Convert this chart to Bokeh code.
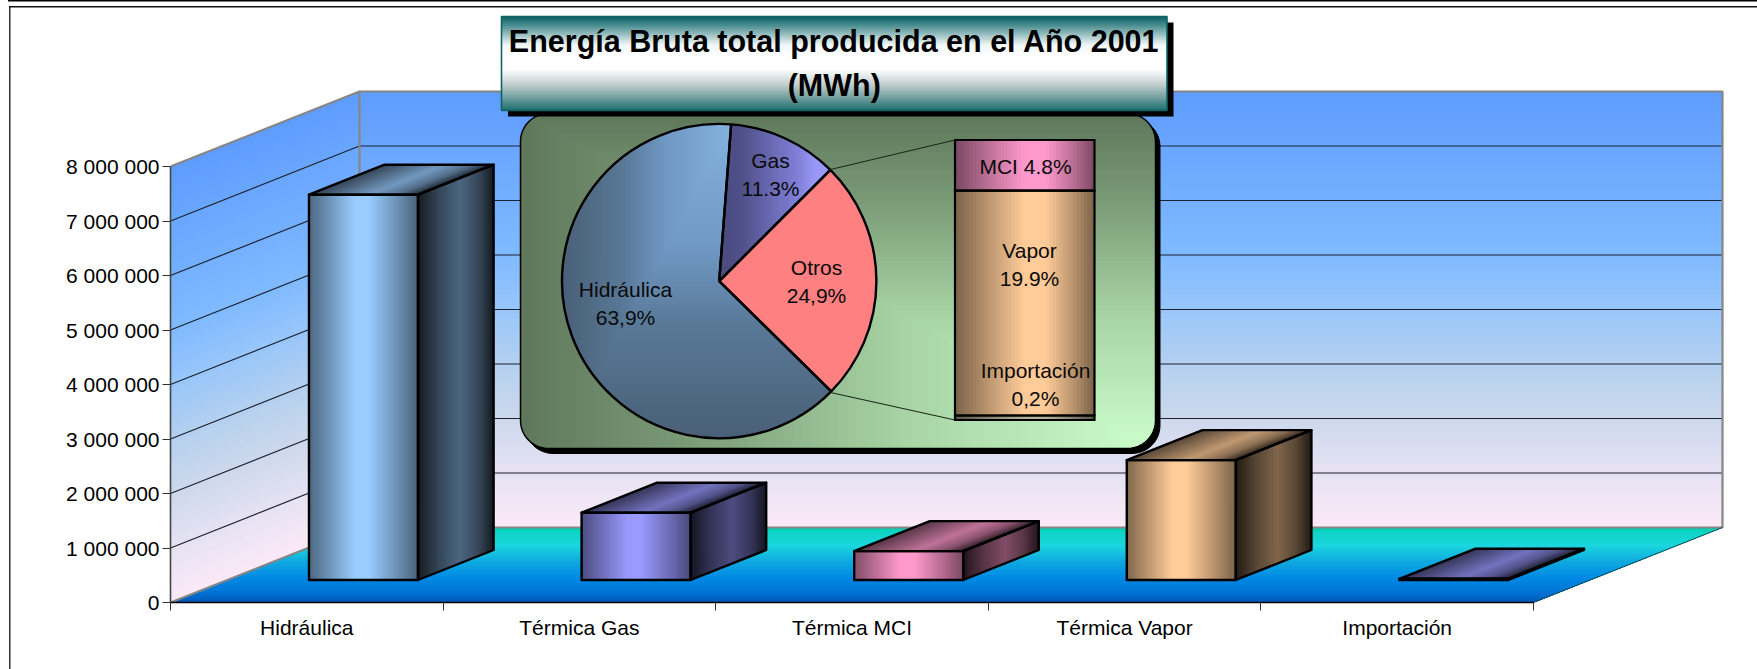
import math
from bokeh.plotting import figure
from bokeh.models import Range1d, FixedTicker
from bokeh.core.properties import value
from bokeh.embed import file_html
from bokeh.resources import INLINE

# ---- data ----
categories = ["Hidráulica", "Térmica Gas", "Térmica MCI", "Térmica Vapor", "Importación"]
energy_mwh = [7070000, 1235000, 530000, 2200000, 22000]
bar_colors = ["#99CCFF", "#9999FF", "#FF99CC", "#FFCC99", "#9999FF"]
y_ticks = [0, 1000000, 2000000, 3000000, 4000000, 5000000, 6000000, 7000000, 8000000]
y_labels = ["0", "1 000 000", "2 000 000", "3 000 000", "4 000 000",
            "5 000 000", "6 000 000", "7 000 000", "8 000 000"]

pie_names = ["Otros", "Hidráulica", "Gas"]
pie_values = [24.9, 63.9, 11.3]
pie_labels = [["Otros", "24,9%"], ["Hidráulica", "63,9%"], ["Gas", "11.3%"]]

stack_names = ["MCI", "Vapor", "Importación"]
stack_values = [4.5, 20.0, 0.4]
stack_labels = [["MCI 4.8%"], ["Vapor", "19.9%"], ["Importación", "0,2%"]]
stack_colors = ["#FF99CC", "#FFCC99", "#B4B49C"]

title_lines = "Energía Bruta total producida en el Año 2001\n(MWh)"

# ---- layout (pixels of the picture) ----
W, H = 1757, 669
AX_L, AX_B = 170, 602
PX_CAT, PX_M = 272.6, 54.5
DEPTH_X = 189 / PX_CAT
DEPTH_Y = 75 / PX_M * 1e6
FONT = value("Liberation Sans")

p = figure(width=W, height=H, output_backend="svg", toolbar_location=None,
           x_range=Range1d(0, (W - AX_L) / PX_CAT),
           y_range=Range1d(0, AX_B / PX_M * 1e6),
           min_border_left=AX_L, min_border_right=0, min_border_top=0,
           min_border_bottom=H - AX_B, x_axis_location="below")
p.outline_line_color = None
p.grid.visible = False
# the thin page frame lies outside the plot frame, so it is painted behind a transparent canvas
p.background_fill_color = None
p.border_fill_color = None
p.styles = {"background":
            "linear-gradient(#000,#000) 8px 0px/100% 1.5px no-repeat,"
            "linear-gradient(#111,#111) 9px 6px/100% 1.5px no-repeat,"
            "linear-gradient(#333,#333) 9px 6px/1.5px 100% no-repeat,"
            "#ffffff"}
p.extra_x_ranges["px"] = Range1d(AX_L, W)
p.extra_y_ranges["px"] = Range1d(AX_B, 0)
PX = dict(x_range_name="px", y_range_name="px")

# ---- helpers ----
def rgb(h):
    h = h.lstrip("#")
    return tuple(int(h[i:i + 2], 16) for i in (0, 2, 4))

def ramp(stops, t):
    t = max(0.0, min(1.0, t))
    for (t0, c0), (t1, c1) in zip(stops, stops[1:]):
        if t <= t1:
            f = 0 if t1 == t0 else (t - t0) / (t1 - t0)
            a, b = rgb(c0), rgb(c1)
            return "#%02x%02x%02x" % tuple(round(a[i] + (b[i] - a[i]) * f) for i in range(3))
    return stops[-1][1]

def shade(base, factors):
    r, g, b = rgb(base)
    return [(t, "#%02x%02x%02x" % (round(r * f), round(g * f), round(b * f))) for t, f in factors]

def lerp(a, b, t):
    return (a[0] + (b[0] - a[0]) * t, a[1] + (b[1] - a[1]) * t)

def grad_quad(A, B, C, D, stops, n=48, **kw):
    """Gradient runs from edge A-D to edge B-C; painted cumulatively so no seams show."""
    xs, ys, cs = [], [], []
    for k in range(n):
        t = k / n
        a, d = lerp(A, B, t), lerp(D, C, t)
        xs.append([a[0], B[0], C[0], d[0]])
        ys.append([a[1], B[1], C[1], d[1]])
        cs.append(ramp(stops, (k + 0.5) / n))
    p.patches(xs, ys, fill_color=cs, line_color=None, **kw)

def clip(poly, fn):
    """Sutherland-Hodgman against one half-plane, fn(pt) >= 0 is inside."""
    out = []
    for i in range(len(poly)):
        a, b = poly[i], poly[(i + 1) % len(poly)]
        fa, fb = fn(a), fn(b)
        if fa >= 0:
            out.append(a)
        if (fa >= 0) != (fb >= 0):
            out.append(lerp(a, b, fa / (fa - fb)))
    return out

def nested(poly, levels):
    xs, ys, cs = [], [], []
    for planes, col in levels:
        q = poly
        for fn in planes:
            if q:
                q = clip(q, fn)
        if len(q) > 2:
            xs.append([c[0] for c in q])
            ys.append([c[1] for c in q])
            cs.append(col)
    p.patches(xs, ys, fill_color=cs, line_color=None, **PX)

def round_rect(l, t, r, b, rad):
    pts = []
    for cx, cy, a0 in [(l + rad, t + rad, 180), (r - rad, t + rad, 270), (r - rad, b - rad, 0), (l + rad, b - rad, 90)]:
        for i in range(13):
            a = math.radians(a0 + 90 * i / 12)
            pts.append((cx + rad * math.cos(a), cy + rad * math.sin(a)))
    return pts

def proj(x, y, d):
    return (x + d * DEPTH_X, y + d * DEPTH_Y)

# ---- walls and floor ----
y_top = y_ticks[-1]
n_cat = len(categories)
wall_stops = [(0, "#5E9CFF"), (.375, "#80BAFF"), (.5, "#98C6FA"), (.625, "#B4D0EF"),
              (.75, "#CCD8EC"), (.875, "#E6E2F3"), (1, "#FBE9F8")]
grad_quad(proj(n_cat, y_top, 1), proj(n_cat, 0, 1), proj(0, 0, 1), proj(0, y_top, 1), wall_stops, n=110)
grad_quad(proj(0, y_top, 1), proj(0, 0, 1), proj(0, 0, 0), proj(0, y_top, 0), wall_stops, n=110)
floor_stops = [(0, "#00D0B0"), (.08, "#10D4C8"), (.24, "#1CD6DE"), (.44, "#10ACE0"),
               (.68, "#0088E4"), (.84, "#0078D8"), (1, "#0058B8")]
grad_quad(proj(n_cat, 0, 1), proj(n_cat, 0, 0), proj(0, 0, 0), proj(0, 0, 1), floor_stops, n=60)

# grid lines
gx, gy = [], []
for v in y_ticks[1:-1]:
    a, b, c = proj(0, v, 0), proj(0, v, 1), proj(n_cat, v, 1)
    gx.append([a[0], b[0], c[0]])
    gy.append([a[1], b[1], c[1]])
p.multi_line(gx, gy, line_color="#1c2230", line_width=1.2)

# wall edges
e = [proj(0, y_top, 0), proj(0, y_top, 1), proj(n_cat, y_top, 1), proj(n_cat, 0, 1), proj(0, 0, 1), proj(0, 0, 0)]
p.line([c[0] for c in e], [c[1] for c in e], line_color="#868686", line_width=2.2)
v0, v1 = proj(0, 0, 1), proj(0, y_top, 1)
p.line([v0[0], v1[0]], [v0[1], v1[1]], line_color="#868686", line_width=2.2)
f0, f1 = proj(n_cat, 0, 0), proj(n_cat, 0, 1)
p.line([f0[0], f1[0]], [f0[1], f1[1]], line_color="#0a4a50", line_width=1)

# ---- 3-D bars ----
front_f = [(0, .5), (.25, .8), (.42, 1), (.55, 1), (.8, .72), (1, .48)]
side_f = [(0, .13), (.25, .33), (.55, .5), (.8, .35), (1, .13)]
top_f = [(0, .35), (.55, .75), (.8, .55), (1, .2)]
D0, D1 = .3, .7
for i, (val, col) in enumerate(zip(energy_mwh, bar_colors)):
    x0, x1 = i + .3, i + .7
    FBL, FBR, FTR, FTL = proj(x0, 0, D0), proj(x1, 0, D0), proj(x1, val, D0), proj(x0, val, D0)
    BBR, BTR, BTL = proj(x1, 0, D1), proj(x1, val, D1), proj(x0, val, D1)
    grad_quad(FTL, FTR, FBR, FBL, shade(col, front_f))
    grad_quad(FTR, BTR, BBR, FBR, shade(col, side_f))
    grad_quad(FTL, FTR, BTR, BTL, shade(col, top_f))
    faces = [[FBL, FBR, FTR, FTL], [FBR, BBR, BTR, FTR], [FTL, FTR, BTR, BTL]]
    p.patches([[c[0] for c in q] for q in faces], [[c[1] for c in q] for q in faces],
              fill_alpha=0, line_color="black", line_width=2.4, line_join="round")

# ---- inset panel ----
PL, PT, PR, PB = 520, 113, 1155, 448
p.patch(*zip(*round_rect(PL + 4.5, PT + 5, PR + 4.5, PB + 5, 28)), fill_color="black", line_color="black", **PX)
panel = round_rect(PL, PT, PR, PB, 28)
panel_stops = [(0, "#5F785C"), (.25, "#7A9A76"), (.6, "#A8D4A5"), (1, "#CCFFCC")]
lv = []
for k in range(70):
    t = k / 70
    ax, ay = PL + t * (PR - PL), PT + t * (PB - PT)
    lv.append(([(lambda c, ax=ax: c[0] - ax), (lambda c, ay=ay: c[1] - ay)], ramp(panel_stops, t)))
nested(panel, lv)
p.line(*zip(*(panel + panel[:1])), line_color="black", line_width=1.5, **PX)

# ---- pie ----
CX, CY, RAD = 718.7, 280.6, 157.2
total = sum(pie_values)
cw = 45.0
spans = []
for v in pie_values:
    spans.append((cw, cw + 360 * v / total))
    cw = spans[-1][1]
starts = [math.radians(90 - s[1]) for s in spans]
ends = [math.radians(90 - s[0]) for s in spans]
wedge_kw = dict(x=[CX] * 3, y=[CY] * 3, radius=RAD, start_angle=starts, end_angle=ends, **PX)
p.wedge(fill_color=["#FF8080", "#7098C4", "#7575C0"], line_color=None, **wedge_kw)

def wedge_poly(s):
    pts = [(CX, CY)]
    n = 200
    for i in range(n + 1):
        a = math.radians(s[0] + (s[1] - s[0]) * i / n)
        pts.append((CX + RAD * math.sin(a), CY - RAD * math.cos(a)))
    return pts

# Hidráulica: L-shaped iso-lines, light at the top right, painted from the dark outside inwards
hyd = [(0, "#85B2E0"), (.4, "#7098C4"), (.65, "#587896"), (1, "#4A6078")]
XR, XL, YT, YB = 732, 561, 124, 438
lv = []
for k in range(70):
    t = 1 - k / 70
    bx, by = XR - t * (XR - XL), YT + t * (YB - YT)
    lv.append(([(lambda c, bx=bx: c[0] - bx), (lambda c, by=by: by - c[1])], ramp(hyd, t)))
nested(wedge_poly(spans[1]), lv)
gas = [(0, "#4B4B7F"), (.2, "#50508A"), (.7, "#8080D8"), (.85, "#9898F8"), (1, "#9999FF")]
lv = []
for k in range(50):
    t = k / 50
    bx = 718 + t * (830 - 718)
    lv.append(([(lambda c, bx=bx: c[0] - bx)], ramp(gas, t)))
nested(wedge_poly(spans[2]), lv)
p.wedge(fill_alpha=0, line_color="black", line_width=2.4, **wedge_kw)

# ---- stacked column of the pie ----
SL, ST, SR, SB = 954.5, 139.5, 1094, 419.5
stack_total = sum(stack_values)
y = ST
seg_f = [(0, .48), (.3, .8), (.5, 1), (.65, 1), (.85, .72), (1, .48)]
edges = []
for sv, col in zip(stack_values, stack_colors):
    y1 = y + (SB - ST) * sv / stack_total
    grad_quad((SL, y), (SR, y), (SR, y1), (SL, y1), shade(col, seg_f), n=40, **PX)
    edges.append((y, y1))
    y = y1
p.quad(left=[SL] * 3, right=[SR] * 3, top=[q[0] for q in edges], bottom=[q[1] for q in edges],
       fill_alpha=0, line_color="black", line_width=2.2, line_join="miter", **PX)
p.multi_line([[830, SL], [830, SL]], [[169, ST], [392, SB]], line_color="#1a2a1a", line_width=1.1, **PX)

# ---- title box ----
TL, TT, TR, TB = 501, 16, 1166.5, 110
p.quad(left=[TL + 6.5], right=[TR + 6.5], top=[TT + 6], bottom=[TB + 6], fill_color="black", line_color=None, **PX)
title_stops = [(0, "#0B5F63"), (.1, "#4F9093"), (.3, "#F0F6F6"), (.42, "#FFFFFF"), (.56, "#FFFFFF"),
               (.72, "#C4D0D0"), (.87, "#6E9C9C"), (1, "#1A6E70")]
grad_quad((TL, TT), (TL, TB), (TR, TB), (TR, TT), title_stops, n=60, **PX)
p.quad(left=[TL], right=[TR], top=[TT], bottom=[TB], fill_alpha=0, line_color="#0E6464", line_width=1.6, **PX)
p.text([(TL + TR) / 2], [62.5], text=[title_lines], text_font=FONT, text_font_size="30.5px",
       text_font_style="bold", text_align="center", text_baseline="middle", text_color="black",
       text_line_height=1.28, **PX)

# ---- labels inside the panel ----
lab_pos = [(816, 281), (625, 303), (770, 174), (1025, 166), (1029, 264), (1035, 384)]
lab_txt = ["\n".join(t) for t in pie_labels + stack_labels]
p.text([c[0] for c in lab_pos], [c[1] for c in lab_pos], text=lab_txt, text_font=FONT, text_font_size="21px",
       text_align="center", text_baseline="middle", text_color="#0a0a0a", text_line_height=1.25, **PX)

# ---- axes ----
ya = p.yaxis[0]
ya.ticker = FixedTicker(ticks=y_ticks)
ya.major_label_overrides = dict(zip(y_ticks, y_labels))
ya.bounds = (0, y_top)
ya.major_tick_in, ya.major_tick_out = 0, 8
ya.minor_tick_line_color = None
ya.major_label_standoff = 3
ya.major_label_text_font = "Liberation Sans"
ya.major_label_text_font_size = "21px"
ya.major_label_text_color = "black"
ya.axis_line_color = "#444444"
ya.axis_line_width = 1.6
ya.major_tick_line_color = "#333333"

xa = p.xaxis[0]
centres = [i + .5 for i in range(n_cat)]
xa.ticker = FixedTicker(ticks=centres, minor_ticks=list(range(n_cat + 1)))
xa.major_label_overrides = dict(zip(centres, categories))
xa.bounds = (0, n_cat)
xa.major_tick_in, xa.major_tick_out = 0, 0
xa.major_tick_line_color = None
xa.minor_tick_in, xa.minor_tick_out = 0, 8
xa.minor_tick_line_color = "#333333"
xa.major_label_standoff = 5
xa.major_label_text_font = "Liberation Sans"
xa.major_label_text_font_size = "21px"
xa.major_label_text_color = "black"
xa.axis_line_color = "black"
xa.axis_line_width = 1.6

open("out.html", "w").write(file_html(p, INLINE))
